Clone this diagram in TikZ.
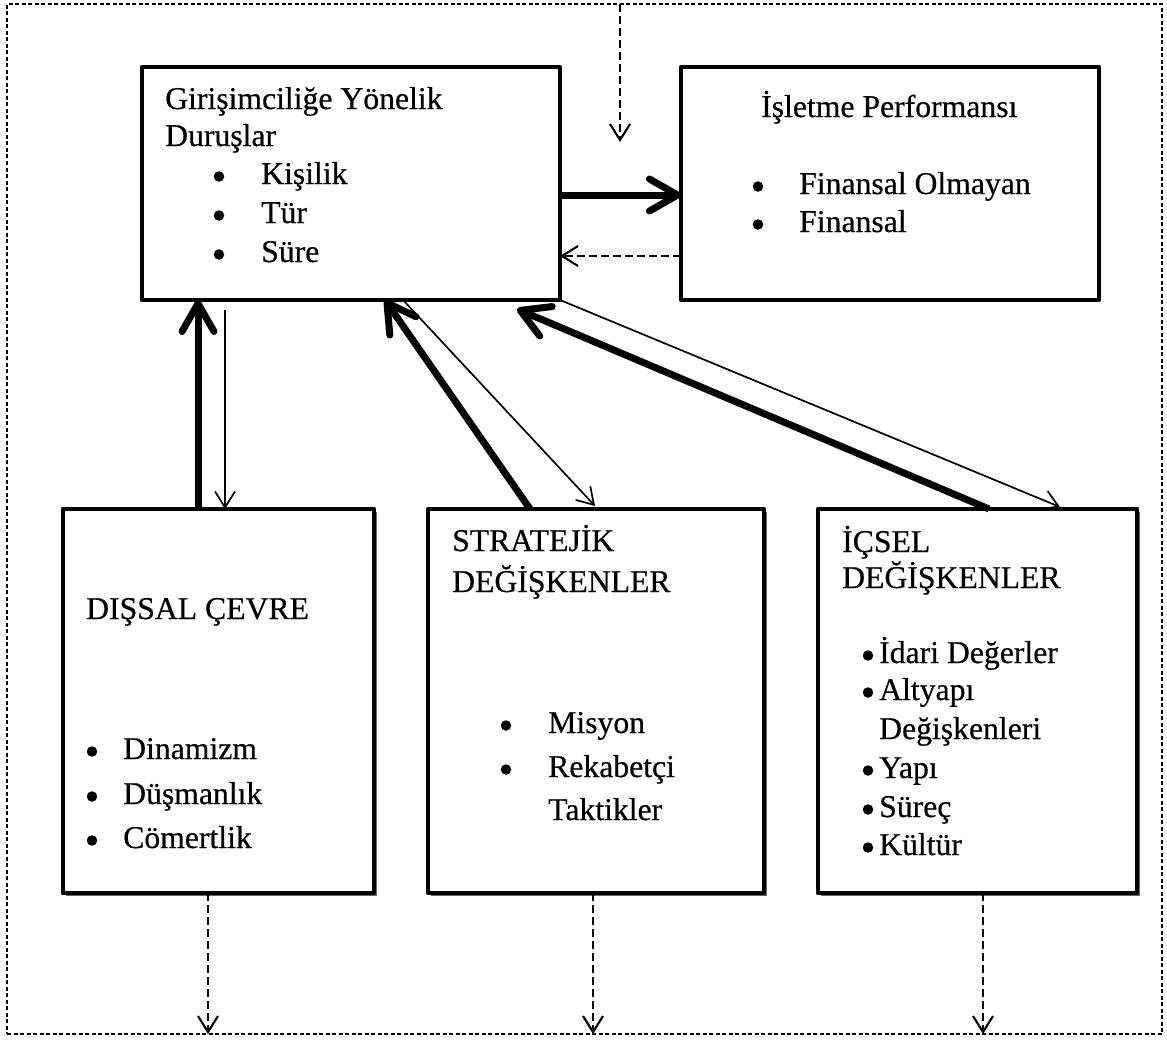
\documentclass[tikz,border=0pt]{standalone}
\usepackage{fontspec}
\setmainfont{Liberation Serif}[FakeBold=0.5]
\usetikzlibrary{arrows.meta,shadows}

\begin{document}
\begin{tikzpicture}[x=1pt,y=-1pt,
  every node/.style={font=\fontsize{31.7pt}{38pt}\selectfont, inner sep=0pt},
  box/.style={draw, line width=4.5pt, fill=white, rectangle, outer sep=0pt, line join=round},
  lowbox/.style={box, drop shadow={shadow xshift=2.5pt, shadow yshift=-3pt, fill=black!60, opacity=1}},
  txt/.style={anchor=base west},
  dot/.style={circle, fill=black, minimum size=10.5pt, inner sep=0pt},
  heavy/.style={line width=7pt, -{Straight Barb[length=28pt,width=32pt,round]}},
  light/.style={line width=1.7pt, -{Straight Barb[length=16pt,width=20pt]}},
  dashy/.style={line width=2.1pt, dash pattern=on 8pt off 4pt, -{Straight Barb[length=16pt,width=20pt]}},
]
\useasboundingbox (0,0) rectangle (1167,1042);

% dashed frame around the whole model
\node[draw, dash pattern=on 4pt off 2.5pt, line width=1.4pt, outer sep=0pt,
      minimum width=1155pt, minimum height=1030pt] (frame) at (584.5,519) {};

% boxes
\node[box, minimum width=418pt, minimum height=233pt] (att) at (351,183.5) {};
\node[box, minimum width=418pt, minimum height=233pt] (perf) at (890,183.5) {};
\node[lowbox, minimum width=311pt, minimum height=384pt] (dis) at (218.5,701) {};
\node[lowbox, minimum width=336pt, minimum height=384pt] (str) at (596,701) {};
\node[lowbox, minimum width=319pt, minimum height=384pt] (ics) at (977.5,701) {};

% entrepreneurial orientation
\node[txt] (a1) at (165,109) {Girişimciliğe Yönelik};
\node[txt] (a2) at (165,146) {Duruşlar};
\node[dot] (a3b) at (219,176.5) {};
\node[txt] (a3) at (261,184) {Kişilik};
\node[dot] (a4b) at (219,215.5) {};
\node[txt] (a4) at (261,223) {Tür};
\node[dot] (a5b) at (219,254.5) {};
\node[txt] (a5) at (261,262) {Süre};

% firm performance
\node[txt] (p1) at (761,117) {İşletme Performansı};
\node[dot] (p2b) at (758,186.5) {};
\node[txt] (p2) at (799,194) {Finansal Olmayan};
\node[dot] (p3b) at (758,224.5) {};
\node[txt] (p3) at (799,232) {Finansal};

% external environment
\node[txt] (d1) at (86,619) {DIŞSAL ÇEVRE};
\node[dot] (d2b) at (92,751.5) {};
\node[txt] (d2) at (123,759) {Dinamizm};
\node[dot] (d3b) at (92,796.5) {};
\node[txt] (d3) at (123,804) {Düşmanlık};
\node[dot] (d4b) at (92,840.5) {};
\node[txt] (d4) at (123,848) {Cömertlik};

% strategic variables
\node[txt] (s1) at (452,551) {STRATEJİK};
\node[txt] (s2) at (452,592) {DEĞİŞKENLER};
\node[dot] (s3b) at (506,725.5) {};
\node[txt] (s3) at (548,733) {Misyon};
\node[dot] (s4b) at (506,769.5) {};
\node[txt] (s4) at (548,777) {Rekabetçi};
\node[txt] (s5) at (548,820) {Taktikler};

% internal variables
\node[txt] (i1) at (842,552) {İÇSEL};
\node[txt] (i2) at (842,588) {DEĞİŞKENLER};
\node[dot] (i3b) at (868,655.5) {};
\node[txt] (i3) at (879,663) {İdari Değerler};
\node[dot] (i4b) at (868,692.5) {};
\node[txt] (i4) at (879,700) {Altyapı};
\node[txt] (i5) at (879,739) {Değişkenleri};
\node[dot] (i6b) at (868,770.5) {};
\node[txt] (i6) at (879,778) {Yapı};
\node[dot] (i7b) at (868,809.5) {};
\node[txt] (i7) at (879,817) {Süreç};
\node[dot] (i8b) at (868,847.5) {};
\node[txt] (i8) at (879,855) {Kültür};

% relations
\draw[heavy] ([yshift=-11.5pt]att.east) -- ([yshift=-11.5pt]perf.west);
\draw[dashy] ([yshift=-72.5pt]perf.west) -- ([yshift=-72.5pt]att.east);

\draw[heavy] ([xshift=135pt]dis.north west) -- ([xshift=56pt]att.south west);
\draw[light] ([xshift=83pt,yshift=-10pt]att.south west) -- ([xshift=162pt]dis.north west);

\draw[heavy] ([xshift=102pt]str.north west) -- ([xshift=243pt]att.south west);
\draw[light] ([xshift=261pt]att.south west) -- ([xshift=167pt,yshift=3pt]str.north west);

\draw[heavy] ([xshift=171pt]ics.north west) -- ([xshift=375pt,yshift=-9pt]att.south west);
\draw[light] (att.south east) -- ([xshift=242pt,yshift=2pt]ics.north west);

% feedback loops
\coordinate (fb) at (620,142);
\draw[dashy] ([xshift=613pt]frame.north west) -- (fb);
\draw[dashy] ([xshift=145pt]dis.south west) -- ([xshift=201pt]frame.south west);
\draw[dashy] ([xshift=165pt]str.south west) -- ([xshift=586pt]frame.south west);
\draw[dashy] ([xshift=165pt]ics.south west) -- ([xshift=976pt]frame.south west);
\end{tikzpicture}
\end{document}
